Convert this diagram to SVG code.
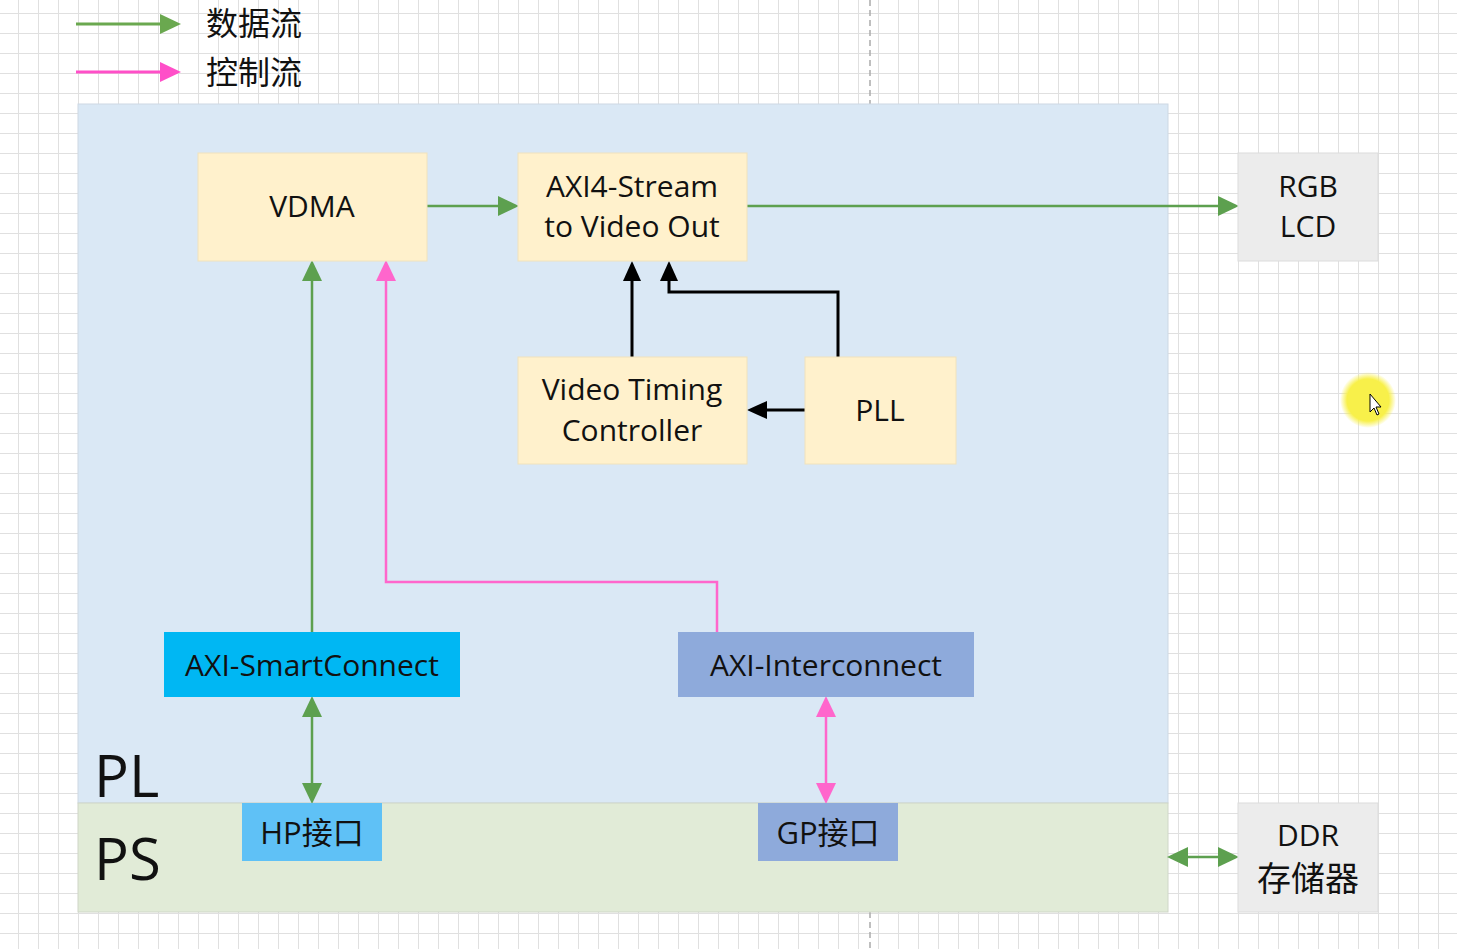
<svg xmlns="http://www.w3.org/2000/svg" width="1457" height="949" viewBox="0 0 1457 949">
<style>
.t{font-family:"Open Sans","Noto Sans CJK SC",sans-serif;font-size:30px;fill:#111;text-anchor:middle}
.cj{font-family:"Open Sans","Noto Sans CJK SC",sans-serif;font-size:32px;fill:#111}
.big{font-family:"Open Sans",sans-serif;font-size:58px;fill:#111}
.y{fill:#fff1cc;stroke:#f0e2bd;stroke-width:1}
.g{fill:#ececec;stroke:#dcdcdc;stroke-width:1}
.gl{stroke:#5da04f;stroke-width:2.5;fill:none}
.pk{stroke:#ff66cc;stroke-width:2.5;fill:none}
.bk{stroke:#000;stroke-width:3;fill:none}
</style>
<defs>
<pattern id="grid" x="18" y="13" width="20" height="20" patternUnits="userSpaceOnUse">
<rect width="20" height="1" fill="#e0e0e0"/><rect width="1" height="20" fill="#e0e0e0"/>
</pattern>
<marker id="ag" markerWidth="22" markerHeight="20" refX="10" refY="10" orient="auto-start-reverse" markerUnits="userSpaceOnUse"><path d="M0,0 L21,10 L0,20 z" fill="#5da04f"/></marker>
<marker id="ap" markerWidth="22" markerHeight="20" refX="10" refY="10" orient="auto-start-reverse" markerUnits="userSpaceOnUse"><path d="M0,0 L21,10 L0,20 z" fill="#ff66cc"/></marker>
<marker id="alg" markerWidth="22" markerHeight="20" refX="10" refY="10" orient="auto" markerUnits="userSpaceOnUse"><path d="M0,0 L21,10 L0,20 z" fill="#6aa84f"/></marker>
<marker id="alp" markerWidth="22" markerHeight="20" refX="10" refY="10" orient="auto" markerUnits="userSpaceOnUse"><path d="M0,0 L21,10 L0,20 z" fill="#ff4fc8"/></marker>
<marker id="ab" markerWidth="22" markerHeight="20" refX="10" refY="10" orient="auto" markerUnits="userSpaceOnUse"><path d="M0,1 L20,10 L0,19 z" fill="#000"/></marker>
<radialGradient id="glow"><stop offset="0.75" stop-color="#f8f04a"/><stop offset="1" stop-color="#f8f04a" stop-opacity="0"/></radialGradient>
</defs>
<rect width="1457" height="949" fill="#fff"/>
<rect width="1457" height="949" fill="url(#grid)"/>
<line x1="870" y1="0" x2="870" y2="104" stroke="#aaa" stroke-width="1.5" stroke-dasharray="6 4"/>
<line x1="870" y1="912" x2="870" y2="949" stroke="#aaa" stroke-width="1.5" stroke-dasharray="6 4"/>

<g id="legend">
<line x1="76" y1="24" x2="170" y2="24" stroke="#6aa84f" stroke-width="3" marker-end="url(#alg)"/>
<text class="cj" x="206" y="35">数据流</text>
<line x1="76" y1="72" x2="170" y2="72" stroke="#ff4fc8" stroke-width="3" marker-end="url(#alp)"/>
<text class="cj" x="206" y="84">控制流</text>
</g>

<g id="PL">
<rect x="78" y="104" width="1090" height="699" fill="#dae8f5" stroke="#cdd8e3" stroke-width="1"/>
<text class="big" x="94" y="797">PL</text>
</g>
<g id="PS">
<rect x="78" y="803" width="1090" height="109" fill="#e1ebd7" stroke="#cfd6c8" stroke-width="1"/>
<text class="big" x="94" y="880">PS</text>
</g>

<g id="connectors">
<line class="gl" x1="427" y1="206" x2="508" y2="206" marker-end="url(#ag)"/>
<line class="gl" x1="747" y1="206" x2="1228" y2="206" marker-end="url(#ag)"/>
<line class="bk" x1="632" y1="357" x2="632" y2="271" marker-end="url(#ab)"/>
<polyline class="bk" points="838,357 838,292 669,292 669,271" marker-end="url(#ab)"/>
<line class="bk" x1="805" y1="410" x2="757" y2="410" marker-end="url(#ab)"/>
<line class="gl" x1="312" y1="632" x2="312" y2="271" marker-end="url(#ag)"/>
<polyline class="pk" points="717,632 717,582 386,582 386,271" marker-end="url(#ap)"/>
<line class="gl" x1="312" y1="707" x2="312" y2="793" marker-start="url(#ag)" marker-end="url(#ag)"/>
<line class="pk" x1="826" y1="707" x2="826" y2="793" marker-start="url(#ap)" marker-end="url(#ap)"/>
<line class="gl" x1="1178" y1="857" x2="1228" y2="857" marker-start="url(#ag)" marker-end="url(#ag)"/>
</g>

<g id="vdma"><rect class="y" x="198" y="153" width="229" height="108"/><text class="t" x="312" y="217">VDMA</text></g>
<g id="axis2vid"><rect class="y" x="518" y="153" width="229" height="108"/><text class="t" x="632" y="197">AXI4-Stream</text><text class="t" x="632" y="237">to Video Out</text></g>
<g id="vtc"><rect class="y" x="518" y="357" width="229" height="107"/><text class="t" x="632" y="400">Video Timing</text><text class="t" x="632" y="441">Controller</text></g>
<g id="pll"><rect class="y" x="805" y="357" width="151" height="107"/><text class="t" x="880" y="421">PLL</text></g>
<g id="rgblcd"><rect class="g" x="1238" y="153" width="140" height="108"/><text class="t" x="1308" y="197">RGB</text><text class="t" x="1308" y="237">LCD</text></g>
<g id="smartconnect"><rect x="164" y="632" width="296" height="65" fill="#00b7f3"/><text class="t" x="312" y="676">AXI-SmartConnect</text></g>
<g id="interconnect"><rect x="678" y="632" width="296" height="65" fill="#8eaadb"/><text class="t" x="826" y="676">AXI-Interconnect</text></g>
<g id="hp"><rect x="242" y="803" width="140" height="58" fill="#5fc1f6"/><text class="t" x="312" y="844" style="font-size:31px">HP接口</text></g>
<g id="gp"><rect x="758" y="803" width="140" height="58" fill="#8eaadb"/><text class="t" x="828" y="844" style="font-size:31px">GP接口</text></g>
<g id="ddr"><rect class="g" x="1238" y="803" width="140" height="109"/><text class="t" x="1308" y="846">DDR</text><text class="t" x="1308" y="891" style="font-size:34px">存储器</text></g>

<g id="cursor">
<circle cx="1368" cy="400" r="28" fill="url(#glow)"/>
<path d="M1370,394 L1370,412 L1374,408 L1377,415 L1379,414 L1376,407 L1381,407 Z" fill="#fff" stroke="#000" stroke-width="1"/>
</g>
</svg>
